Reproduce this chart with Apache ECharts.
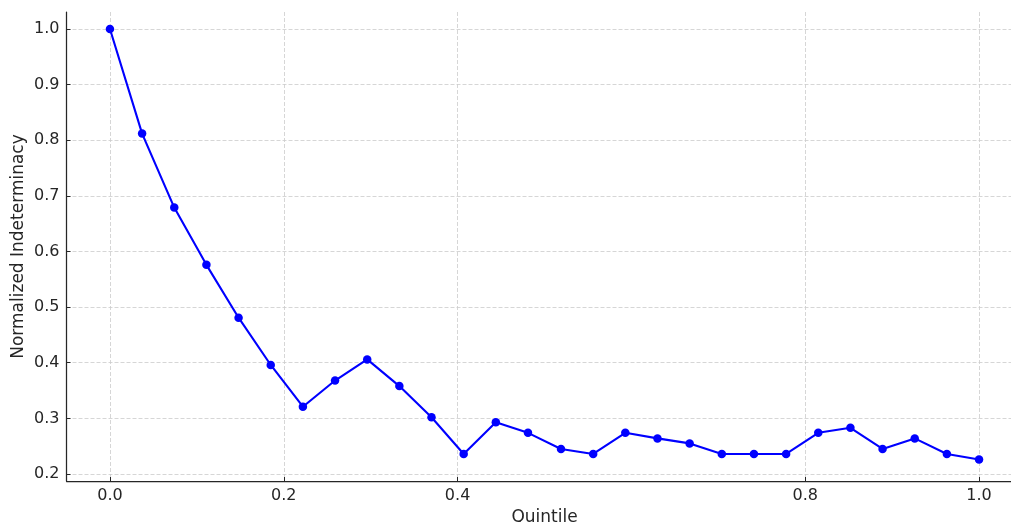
<!DOCTYPE html>
<html>
<head>
<meta charset="utf-8">
<script src="https://cdn.jsdelivr.net/npm/echarts@6/dist/echarts.min.js"></script>
<style>
html,body{margin:0;padding:0;background:#fff;}
#chart{width:1011px;height:522px;}
</style>
</head>
<body>
<div id="chart"></div>
<script>
const quintiles = [0, 0.037, 0.074, 0.111, 0.148, 0.185, 0.222, 0.259, 0.296, 0.333, 0.370, 0.407, 0.444, 0.481, 0.519, 0.556, 0.593, 0.630, 0.667, 0.704, 0.741, 0.778, 0.815, 0.852, 0.889, 0.926, 0.963, 1.0];
const indeterminacy = [1.0, 0.812, 0.679, 0.576, 0.481, 0.396, 0.321, 0.368, 0.406, 0.358, 0.302, 0.236, 0.293, 0.274, 0.245, 0.236, 0.274, 0.264, 0.255, 0.236, 0.236, 0.236, 0.274, 0.283, 0.245, 0.264, 0.236, 0.226];
const xTicks = [0.0, 0.2, 0.4, 0.8, 1.0];
const yTicks = [0.2, 0.3, 0.4, 0.5, 0.6, 0.7, 0.8, 0.9, 1.0];
const xTitle = 'Quintile';
const yTitle = 'Normalized Indeterminacy';

const font = 'DejaVu Sans';
const textColor = '#262626';
const chart = echarts.init(document.getElementById('chart'), null, {renderer: 'canvas'});
chart.setOption({
  animation: false,
  backgroundColor: '#ffffff',
  grid: {left: 66.5, top: 12, width: 956, height: 469, containLabel: false, outerBoundsMode: 'none'},
  xAxis: {
    type: 'value', min: -0.05, max: 1.05,
    name: xTitle, nameLocation: 'middle', nameGap: 26,
    nameTextStyle: {fontFamily: font, fontSize: 17, color: textColor},
    axisLine: {show: true, onZero: false, lineStyle: {color: '#262626', width: 1.25}},
    axisTick: {show: true, inside: true, length: 4, customValues: xTicks, lineStyle: {color: '#262626', width: 1}},
    axisLabel: {customValues: xTicks, fontFamily: font, fontSize: 16, color: textColor, margin: 7,
      formatter: v => v.toFixed(1)},
    splitLine: {show: true, lineStyle: {color: '#cccccc', type: [4, 2], width: 0.8}}
  },
  yAxis: {
    type: 'value', min: 0.1874, max: 1.0306,
    name: yTitle, nameLocation: 'middle', nameGap: 39, nameRotate: 90, nameMoveOverlap: false,
    nameTextStyle: {fontFamily: font, fontSize: 17, color: textColor},
    axisLine: {show: true, onZero: false, lineStyle: {color: '#262626', width: 1.25}},
    axisTick: {show: true, inside: true, length: 4, customValues: yTicks, lineStyle: {color: '#262626', width: 1}},
    axisLabel: {customValues: yTicks, fontFamily: font, fontSize: 16, color: textColor, margin: 7,
      formatter: v => v.toFixed(1)},
    splitLine: {show: true, lineStyle: {color: '#cccccc', type: [4, 2], width: 0.8}}
  },
  series: [{
    type: 'line',
    data: quintiles.map((q, i) => [q, indeterminacy[i]]),
    symbol: 'circle', symbolSize: 8.5,
    lineStyle: {color: '#0000ff', width: 2.1},
    itemStyle: {color: '#0000ff'},
    clip: false
  }]
});
</script>
</body>
</html>
